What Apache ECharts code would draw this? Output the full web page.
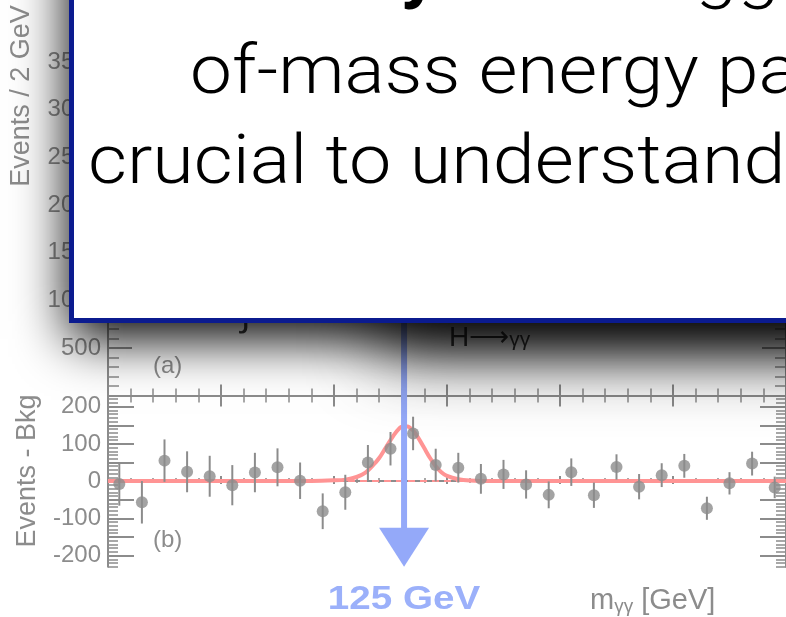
<!DOCTYPE html>
<html><head><meta charset="utf-8">
<script src="https://cdn.jsdelivr.net/npm/echarts@6/dist/echarts.min.js"></script>
<style>html,body{margin:0;padding:0;background:#fff;overflow:hidden}#c{width:786px;height:617px}</style>
</head><body><div id="c"></div>
<script>
// ---- data ----
const massBins = [101,103,105,107,109,111,113,115,117,119,121,123,125,127,129,131,133,135,137,139,141,143,145,147,149,151,153,155,157,159];
const excess = [-8,-57,55,25,13,-11,23,37,1,-81,-30,50,87,128,43,36,6,18,-9,-37,24,-38,38,-15,16,41,-73,-6,47,-17];
const excessErr = [58,57,57,55,55,54,53,51,49,48,47,47,45,45,44,40,40,39,38,36,37,34,34,34,32,32,31,30,32,29];
const fitMass = [100,118,120,121,122,122.75,123.5,124,124.5,125,125.5,126,126.5,127,127.5,128,128.5,129,129.5,130,131,132,134,160];
const fitExcess = [0,0.5,2,4,11,22,44,62,86,110,132,146,147,136,114,88,62,40,24,14,5,1.5,0,0];
const bkgMass = [100,160];
const bkgLevel = [0,0];
const upperYLabels = [500,1000,1500,2000,2500,3000,3500];
const lowerYLabels = [-200,-100,0,100,200];
const lowerMajorTicks = [-200,-150,-100,-50,0,50,100,150,200];
const higgsMass = 126.2;
const arrowLabel = '125 GeV';
const xTitle = 'm';
const xTitleSub = 'γγ';
const xTitleUnit = ' [GeV]';
const yTitleUpper = 'Events / 2 GeV';
const yTitleLower = 'Events - Bkg';
const boxLines = ['Takeaway:', ' The Higgs boson', 'of-mass energy particle', 'crucial to understanding'];

// ---- chart ----
const G = '#8c8c8c';
const FONT = 'Liberation Sans';
const lowerMinorTicks = [];
for (let v = -230; v <= 230; v += 10) lowerMinorTicks.push(v);

const pointData = massBins.map((m, i) => [m, excess[i]]);
const errData = massBins.map((m, i) => [m, excess[i] - excessErr[i], excess[i] + excessErr[i]]);
const fitData = fitMass.map((m, i) => [m, fitExcess[i]]);
const bkgData = bkgMass.map((m, i) => [m, bkgLevel[i]]);

const line = {show: true, lineStyle: {color: G, width: 2}};
function xAx(grid, pos, tl, ml) {
  return {gridIndex: grid, type: 'value', min: 100, max: 160, interval: 10, position: pos,
    axisLine: line, axisLabel: {show: false}, splitLine: {show: false},
    axisTick: {show: true, inside: true, length: tl, lineStyle: {color: G, width: 2}},
    minorTick: {show: true, splitNumber: 5, length: ml, lineStyle: {color: G, width: 1.5}}};
}
const labelStyle = {fontSize: 24, color: G, fontFamily: FONT, margin: 7, formatter: v => String(v)};

const chart = echarts.init(document.getElementById('c'), null, {renderer: 'canvas'});
chart.setOption({
  animation: false,
  backgroundColor: '#fff',
  grid: [
    {left: 108, right: -4, top: 14.5, height: 381},
    {left: 108, right: -4, top: 395.5, height: 171.2}
  ],
  xAxis: [xAx(0, 'bottom', 11, 7), xAx(0, 'top', 11, 7), xAx(1, 'bottom', 5, 3), xAx(1, 'top', 3, 2)],
  yAxis: [
    {gridIndex: 0, type: 'value', min: 0, max: 4000, interval: 500, position: 'left', axisLine: line,
     splitLine: {show: false},
     axisTick: {show: true, inside: true, length: 24, lineStyle: {color: G, width: 2}},
     minorTick: {show: true, splitNumber: 5, length: 11, lineStyle: {color: G, width: 1.5}},
     axisLabel: Object.assign({show: true, customValues: upperYLabels}, labelStyle)},
    {gridIndex: 0, type: 'value', min: 0, max: 4000, interval: 500, position: 'right', axisLine: line,
     splitLine: {show: false},
     axisTick: {show: true, inside: true, length: 24, lineStyle: {color: G, width: 2}},
     minorTick: {show: true, splitNumber: 5, length: 11, lineStyle: {color: G, width: 1.5}},
     axisLabel: {show: false}},
    {gridIndex: 1, type: 'value', min: -230, max: 230, position: 'left', axisLine: line,
     splitLine: {show: false},
     axisTick: {show: true, inside: true, length: 26, customValues: lowerMajorTicks, lineStyle: {color: G, width: 2}},
     axisLabel: Object.assign({show: true, customValues: lowerYLabels}, labelStyle)},
    {gridIndex: 1, type: 'value', min: -230, max: 230, position: 'left', axisLine: {show: false},
     splitLine: {show: false},
     axisTick: {show: true, inside: true, length: 10, customValues: lowerMinorTicks, lineStyle: {color: G, width: 1.5}},
     axisLabel: {show: false}},
    {gridIndex: 1, type: 'value', min: -230, max: 230, position: 'right', axisLine: line,
     splitLine: {show: false},
     axisTick: {show: true, inside: true, length: 26, customValues: lowerMajorTicks, lineStyle: {color: G, width: 2}},
     axisLabel: {show: false}},
    {gridIndex: 1, type: 'value', min: -230, max: 230, position: 'right', axisLine: {show: false},
     splitLine: {show: false},
     axisTick: {show: true, inside: true, length: 10, customValues: lowerMinorTicks, lineStyle: {color: G, width: 1.5}},
     axisLabel: {show: false}}
  ],
  series: [
    {type: 'line', xAxisIndex: 2, yAxisIndex: 2, data: bkgData, symbol: 'none', z: 2,
     lineStyle: {color: '#ff9494', width: 2, type: [7, 5]}},
    {type: 'line', xAxisIndex: 2, yAxisIndex: 2, data: fitData, symbol: 'none', smooth: 0.3, z: 3,
     lineStyle: {color: '#ff9494', width: 4}},
    {type: 'custom', xAxisIndex: 2, yAxisIndex: 2, data: errData, z: 4,
     renderItem: function (params, api) {
       const lo = api.coord([api.value(0), api.value(1)]);
       const hi = api.coord([api.value(0), api.value(2)]);
       return {type: 'line', shape: {x1: lo[0], y1: lo[1], x2: hi[0], y2: hi[1]},
               style: {stroke: G, lineWidth: 2}};
     }},
    {type: 'scatter', xAxisIndex: 2, yAxisIndex: 2, data: pointData, symbol: 'circle', symbolSize: 12, z: 5,
     itemStyle: {color: G}}
  ]
});

const bottom = chart.convertToPixel({gridIndex: 1}, [higgsMass, -230]);
const ax = bottom[0];
const tipY = bottom[1];
const triTop = tipY - 39;
const BLUE = '#94a9f9';
const BOXFONT = 'Roboto';

chart.setOption({
  graphic: [
    // texts inside the plot (under the slide shadow)
    {type: 'text', z: 50, x: 22, y: 96, rotation: Math.PI / 2,
     style: {text: yTitleUpper, fontSize: 27, fill: G, fontFamily: FONT, align: 'center', verticalAlign: 'middle'}},
    {type: 'text', z: 50, x: 28, y: 471, rotation: Math.PI / 2,
     style: {text: yTitleLower, fontSize: 27, fill: G, fontFamily: FONT, align: 'center', verticalAlign: 'middle'}},
    {type: 'text', z: 50, x: 153, y: 366,
     style: {text: '(a)', fontSize: 24, fill: G, fontFamily: FONT, verticalAlign: 'middle'}},
    {type: 'text', z: 50, x: 153, y: 540,
     style: {text: '(b)', fontSize: 24, fill: G, fontFamily: FONT, verticalAlign: 'middle'}},
    {type: 'text', z: 50, x: 449, y: 338,
     style: {text: '{h|H⟶}{g|γγ}', verticalAlign: 'middle',
       rich: {h: {fontSize: 28, fill: '#3a3a3a', fontFamily: FONT},
              g: {fontSize: 21, fill: '#3a3a3a', fontFamily: FONT, padding: [4, 0, 0, 0]}}}},
    {type: 'text', z: 50, x: 241, y: 334,
     style: {text: '∫', fontSize: 36, fill: '#3a3a3a', fontFamily: FONT, verticalAlign: 'bottom'}},
    {type: 'text', z: 50, x: 590, y: 601,
     style: {text: '{m|' + xTitle + '}{s|' + xTitleSub + '}{m|' + xTitleUnit + '}', fill: G, fontFamily: FONT,
       verticalAlign: 'middle',
       rich: {m: {fontSize: 29, fill: G, fontFamily: FONT},
              s: {fontSize: 19, fill: G, fontFamily: FONT, padding: [12, 0, 0, 0]}}}},
    {type: 'text', z: 50, x: ax, y: 600, scaleX: 1.17, originX: 0, originY: 0,
     style: {text: arrowLabel, fontSize: 33, fontWeight: 'bold', fill: '#9bb0fa', fontFamily: FONT,
             align: 'center', verticalAlign: 'middle'}},
    // arrow
    {type: 'line', z: 60, shape: {x1: ax, y1: 250, x2: ax, y2: triTop + 2},
     style: {stroke: BLUE, lineWidth: 6}},
    {type: 'polygon', z: 60, shape: {points: [[ax - 25, triTop], [ax + 25, triTop], [ax, tipY]]},
     style: {fill: BLUE}},
    // slide shadow casters (hidden behind the box)
    {type: 'rect', z: 110, shape: {x: 69, y: -100, width: 1000, height: 423},
     style: {fill: '#000', shadowBlur: 50, shadowOffsetY: 16, shadowColor: 'rgba(0,0,0,1)'}},
    {type: 'rect', z: 111, shape: {x: 380, y: 150, width: 800, height: 168},
     style: {fill: '#000', shadowBlur: 70, shadowOffsetY: 35, shadowColor: 'rgba(0,0,0,0.8)'}},
    // the slide box
    {type: 'rect', z: 120, shape: {x: 71.5, y: -100, width: 1000, height: 420.5},
     style: {fill: '#fff', stroke: '#0b1b8f', lineWidth: 5}},
    {type: 'text', z: 130, x: 100, y: -22, scaleX: 1.12, originX: 0, originY: 0,
     style: {text: '{b|' + boxLines[0] + '}{l|' + boxLines[1] + '}', verticalAlign: 'middle',
       rich: {b: {fontSize: 68, fontWeight: 'bold', fill: '#000', fontFamily: BOXFONT},
              l: {fontSize: 68, fontWeight: 300, fill: '#000', fontFamily: BOXFONT}}}},
    {type: 'text', z: 130, x: 190, y: 76, scaleX: 1.10, originX: 0, originY: 0,
     style: {text: boxLines[2], fontSize: 68, fontWeight: 300, fill: '#000', fontFamily: BOXFONT, verticalAlign: 'middle'}},
    {type: 'text', z: 130, x: 88, y: 166, scaleX: 1.11, originX: 0, originY: 0,
     style: {text: boxLines[3], fontSize: 68, fontWeight: 300, fill: '#000', fontFamily: BOXFONT, verticalAlign: 'middle'}}
  ]
});
</script></body></html>
